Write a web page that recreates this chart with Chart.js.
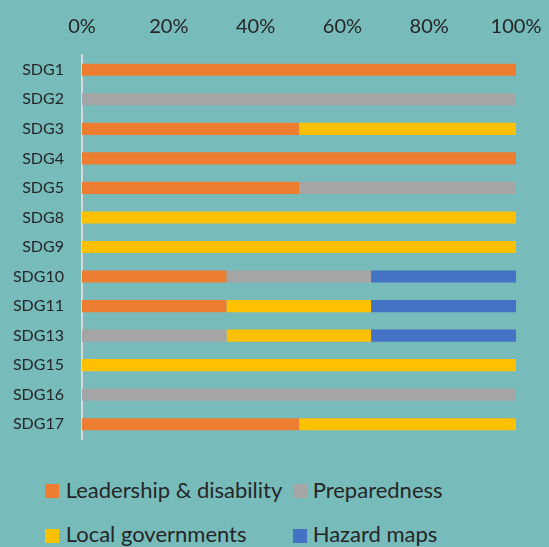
<!DOCTYPE html>
<html>
<head>
<meta charset="utf-8">
<script src="https://cdn.jsdelivr.net/npm/chart.js@4/dist/chart.umd.min.js"></script>
<style>
  html, body { margin: 0; padding: 0; }
  body { width: 549px; height: 547px; background: #77BCBB; position: relative; overflow: hidden; font-family: Lato, "Open Sans", sans-serif; }
  #wrap { position: absolute; left: 0; top: 0; width: 549px; height: 455px; }
  .lt { position: absolute; font-size: 22px; line-height: 26.4px; color: #262626; white-space: nowrap; }
  .lb { position: absolute; width: 14px; height: 14px; }
</style>
</head>
<body>
<div id="wrap"><canvas id="c"></canvas></div>
<div id="legend"></div>
<script>
const categories = ["SDG1","SDG2","SDG3","SDG4","SDG5","SDG8","SDG9","SDG10","SDG11","SDG13","SDG15","SDG16","SDG17"];
const seriesNames = ["Leadership & disability","Preparedness","Local governments","Hazard maps"];
const seriesColors = ["#ED7D31","#A5A5A5","#FFC000","#4472C4"];
const leadership   = [100, 0, 50, 100, 50, 0, 0, 33.3, 33.3, 0, 0, 0, 50];
const preparedness = [0, 100, 0, 0, 50, 0, 0, 33.3, 0, 33.3, 0, 100, 0];
const localGov     = [0, 0, 50, 0, 0, 100, 100, 0, 33.3, 33.3, 100, 0, 50];
const hazardMaps   = [0, 0, 0, 0, 0, 0, 0, 33.4, 33.4, 33.4, 0, 0, 0];
const xTicks = [0, 20, 40, 60, 80, 100];

const seriesValues = [leadership, preparedness, localGov, hazardMaps];

new Chart(document.getElementById('c'), {
  type: 'bar',
  data: {
    labels: categories,
    datasets: seriesNames.map((n, i) => ({
      label: n,
      data: seriesValues[i],
      backgroundColor: seriesColors[i],
      borderWidth: 0,
      barPercentage: 0.41,
      categoryPercentage: 1.0
    }))
  },
  options: {
    indexAxis: 'y',
    responsive: true,
    maintainAspectRatio: false,
    animation: false,
    layout: { padding: { left: 0, right: 33, top: 13, bottom: 16 } },
    plugins: { legend: { display: false }, tooltip: { enabled: false } },
    scales: {
      x: {
        position: 'top',
        stacked: true,
        min: 0, max: 100,
        afterBuildTicks: (s) => { s.ticks = xTicks.map(v => ({ value: v })); },
        afterFit: (s) => { s.height = 42; s.paddingLeft = 0; s.paddingRight = 0; },
        ticks: {
          callback: (v) => v + '%',
          font: { family: 'Lato', size: 20 },
          color: '#262626',
          padding: 16,
          maxRotation: 0
        },
        grid: { display: false, drawTicks: false },
        border: { display: false }
      },
      y: {
        stacked: true,
        afterFit: (s) => { s.width = 82; s.paddingTop = 0; s.paddingBottom = 0; },
        ticks: {
          font: { family: 'Lato', size: 16 },
          color: '#262626',
          padding: 18
        },
        grid: { display: false, drawTicks: false },
        border: { display: true, color: '#D9D9D9', width: 2 }
      }
    }
  }
});

const legendItems = [
  { i: 0, boxLeft: 45, textLeft: 65.7, boxTop: 484, textTop: 476.6 },
  { i: 1, boxLeft: 293, textLeft: 312.7, boxTop: 484, textTop: 476.6 },
  { i: 2, boxLeft: 45, textLeft: 65.7, boxTop: 529.3, textTop: 521 },
  { i: 3, boxLeft: 293, textLeft: 312.7, boxTop: 529.3, textTop: 521 }
];
const lg = document.getElementById('legend');
legendItems.forEach(it => {
  const b = document.createElement('div');
  b.className = 'lb';
  b.style.left = it.boxLeft + 'px';
  b.style.top = it.boxTop + 'px';
  b.style.background = seriesColors[it.i];
  const t = document.createElement('div');
  t.className = 'lt';
  t.style.left = it.textLeft + 'px';
  t.style.top = it.textTop + 'px';
  t.textContent = seriesNames[it.i];
  lg.appendChild(b); lg.appendChild(t);
});
</script>
</body>
</html>
